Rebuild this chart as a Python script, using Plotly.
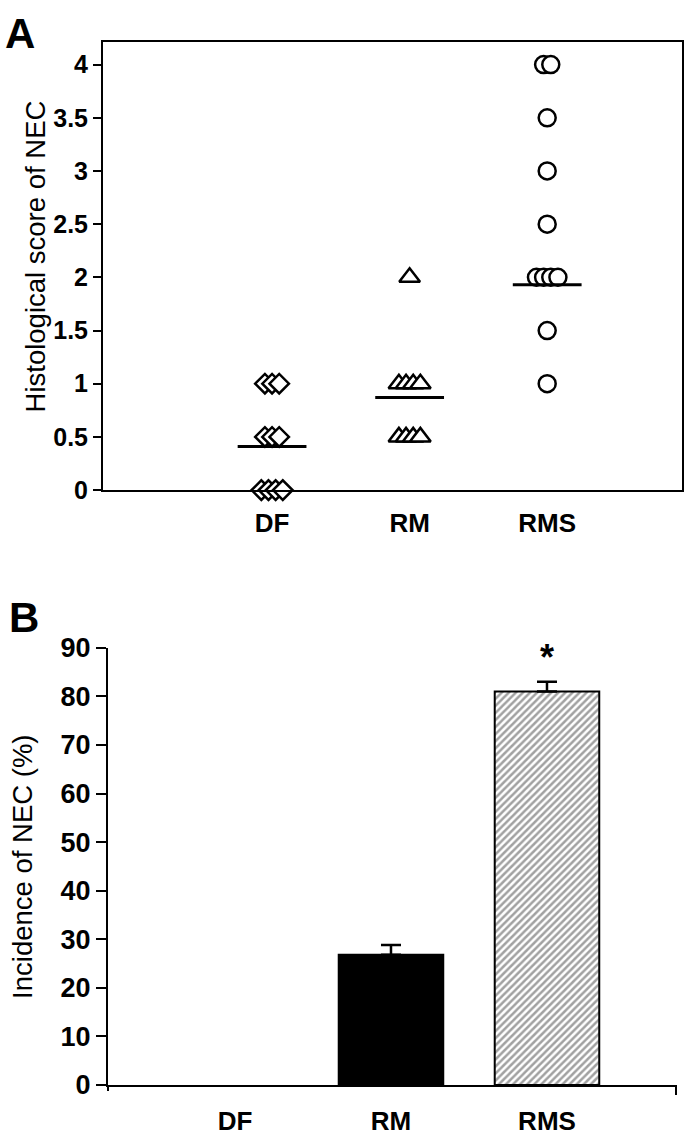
import plotly.graph_objects as go
from collections import Counter

# ---------------- data ----------------
groups = ["DF", "RM", "RMS"]
df_scores = [0, 0, 0, 0, 0.5, 0.5, 0.5, 1, 1, 1]
rm_scores = [2, 1, 1, 1, 1, 0.5, 0.5, 0.5, 0.5]
rms_scores = [4, 4, 3.5, 3, 2.5, 2, 2, 2, 2, 1.5, 1]
group_means = [0.41, 0.87, 1.93]

incidence = [0, 26.8, 81.0]
incidence_err = [0, 2.0, 2.0]
significance = ["", "", "*"]

W, H = 685, 1136
ARIAL = "Liberation Sans, Arial, sans-serif"
FONT_TICK_A = dict(family=ARIAL, size=25, color="black", weight="bold")
FONT_TICK_B = dict(family=ARIAL, size=27, color="black", weight="bold")
FONT_XLAB = dict(family=ARIAL, size=26, color="black", weight="bold")
FONT_TITLE = dict(family=ARIAL, size=27.5, color="black")

fig = go.Figure()

# ---------------- Panel A ----------------
symbols = ["diamond", "triangle-up", "circle"]
sizes = [15, 18, 17]
step = 0.052
for gi, (scores, sym, sz) in enumerate(zip([df_scores, rm_scores, rms_scores], symbols, sizes)):
    pos = gi + 1
    counts = Counter(scores)
    seen = Counter()
    xs, ys = [], []
    for v in sorted(scores):
        n = counts[v]
        i = seen[v]
        seen[v] += 1
        xs.append(pos + (i - (n - 1) / 2) * step)
        ys.append(v)
    fig.add_trace(go.Scatter(
        x=xs, y=ys, mode="markers", xaxis="x", yaxis="y", cliponaxis=False,
        marker=dict(symbol=sym, size=sz, color="white", line=dict(color="black", width=2.5)),
        showlegend=False, hoverinfo="y"))
    fig.add_trace(go.Scatter(
        x=[pos - 0.25, pos + 0.25], y=[group_means[gi]] * 2, mode="lines",
        xaxis="x", yaxis="y", line=dict(color="black", width=3), showlegend=False))

# ---------------- Panel B ----------------
bx = [1, 2, 3]
fig.add_trace(go.Bar(
    x=bx, y=incidence, xaxis="x2", yaxis="y2", width=0.67,
    marker=dict(color=["white", "black", "white"],
                line=dict(color="black", width=[0, 2, 2]),
                pattern=dict(shape=["", "", "/"], fgcolor="black", bgcolor="white",
                             size=5, solidity=0.5)),
    showlegend=False))

# upward error bars only where an error exists
ex = [x for x, e in zip(bx, incidence_err) if e > 0]
ey = [v for v, e in zip(incidence, incidence_err) if e > 0]
ee = [e for e in incidence_err if e > 0]
fig.add_trace(go.Scatter(
    x=ex, y=ey, mode="markers", xaxis="x2", yaxis="y2",
    marker=dict(size=1, color="rgba(0,0,0,0)"),
    error_y=dict(type="data", symmetric=False, array=ee, arrayminus=[0] * len(ee),
                 color="black", thickness=2.5, width=10, visible=True),
    showlegend=False, hoverinfo="skip"))

for xi, (v, e, s) in enumerate(zip(incidence, incidence_err, significance)):
    if s:
        fig.add_annotation(x=bx[xi], y=v + e, xref="x2", yref="y2", text=s,
                           showarrow=False, yshift=24,
                           font=dict(family=ARIAL, size=36, color="black", weight="bold"))

axA_x = [103 / W, 682 / W]
axA_y = [1 - 488 / H, 1 - 28 / H]
axB_x = [108 / W, 676 / W]
axB_y = [1 - 1099 / H, 1 - 650 / H]

fig.update_layout(
    width=W, height=H, margin=dict(l=0, r=0, t=0, b=0),
    paper_bgcolor="white", plot_bgcolor="white",
    xaxis=dict(domain=axA_x, range=[-0.229, 3.98], tickvals=[1, 2, 3], ticktext=groups,
               showline=True, linecolor="black", linewidth=2, mirror=True,
               ticks="", showgrid=False, zeroline=False, tickfont=FONT_XLAB,
               ticklabelstandoff=9, anchor="y"),
    yaxis=dict(domain=axA_y, range=[0, 4.21], tickvals=[0, 0.5, 1, 1.5, 2, 2.5, 3, 3.5, 4],
               showline=True, linecolor="black", linewidth=2, mirror=True,
               ticks="outside", ticklen=8, tickwidth=2, tickcolor="black",
               showgrid=False, zeroline=False, tickfont=FONT_TICK_A, anchor="x"),
    xaxis2=dict(domain=axB_x, range=[0.186, 3.827], tickvals=bx, ticktext=groups,
                showline=True, linecolor="black", linewidth=2, ticks="",
                showgrid=False, zeroline=False, tickfont=FONT_XLAB,
                ticklabelstandoff=12, anchor="y2"),
    yaxis2=dict(domain=axB_y, range=[0, 90], dtick=10,
                showline=True, linecolor="black", linewidth=2,
                ticks="outside", ticklen=10, tickwidth=2, tickcolor="black",
                showgrid=False, zeroline=False, tickfont=FONT_TICK_B, anchor="x2"),
)

# axis titles
fig.add_annotation(text="Histological score of NEC", x=35 / W, y=1 - 248 / H,
                   xref="paper", yref="paper", textangle=-90, showarrow=False,
                   xanchor="center", yanchor="middle", font=FONT_TITLE)
fig.add_annotation(text="Incidence of NEC (%)", x=23 / W, y=1 - 875 / H,
                   xref="paper", yref="paper", textangle=-90, showarrow=False,
                   xanchor="center", yanchor="middle", font=FONT_TITLE)

# small axis extensions in panel B
fig.add_shape(type="line", xref="x2 domain", yref="y2 domain", x0=0, x1=0,
              ysizemode="pixel", yanchor=0, y0=0, y1=-6, line=dict(color="black", width=2))
fig.add_shape(type="line", xref="x2 domain", yref="y2 domain", x0=1, x1=1,
              ysizemode="pixel", yanchor=0, y0=0, y1=-10, line=dict(color="black", width=2))

# panel letters
fig.add_annotation(text="A", x=20 / W, y=1 - 19 / H, xref="paper", yref="paper",
                   xanchor="center", yanchor="middle", showarrow=False,
                   font=dict(family=ARIAL, size=42, color="black", weight="bold"))
fig.add_annotation(text="B", x=24 / W, y=1 - 619 / H, xref="paper", yref="paper",
                   xanchor="center", yanchor="middle", showarrow=False,
                   font=dict(family=ARIAL, size=42, color="black", weight="bold"))

fig.write_html("out.html", config={"displayModeBar": False},
               post_script="document.body.style.margin='0';document.body.style.overflow='hidden';")
